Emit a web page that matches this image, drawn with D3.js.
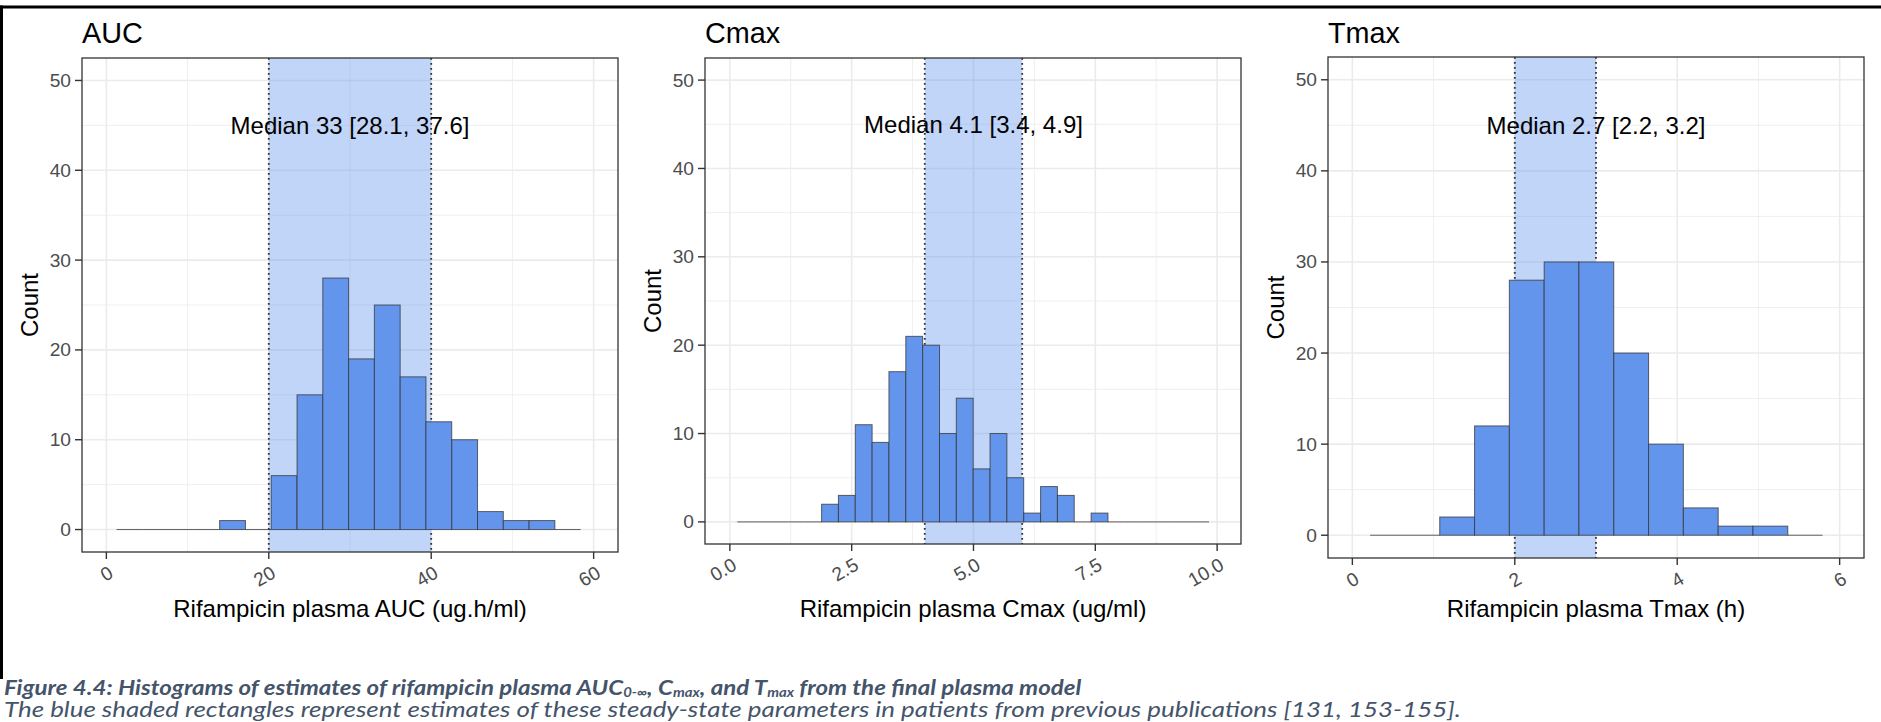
<!DOCTYPE html>
<html>
<head>
<meta charset="utf-8">
<script src="https://cdn.jsdelivr.net/npm/d3@7"></script>
<style>
  body { margin: 0; background: #fff; }
  svg { display: block; font-family: "Liberation Sans", Arial, sans-serif; }
</style>
</head>
<body>
<div id="chart"></div>
<script>
// Histograms of rifampicin plasma AUC, Cmax and Tmax
const WIDTH = 1881;
const HEIGHT = 722;

// ---- data ----
const aucBinStarts = [1.25, 4.43, 7.6, 10.78, 13.95, 17.13, 20.3, 23.48, 26.65, 29.83, 33.0, 36.18, 39.35, 42.53, 45.7, 48.88, 52.05, 55.23];
const aucBinWidth = 3.175;
const aucCounts = [0, 0, 0, 0, 1, 0, 6, 15, 28, 19, 25, 17, 12, 10, 2, 1, 1, 0];
const aucShade = [20, 40];
const aucLabel = "Median 33 [28.1, 37.6]";
const aucLabelX = 30;
const aucXTicks = [0, 20, 40, 60];
const aucXMinor = [10, 30, 50];

const cmaxBinStarts = [0.154, 0.5, 0.845, 1.191, 1.537, 1.883, 2.228, 2.574, 2.92, 3.265, 3.611, 3.957, 4.302, 4.648, 4.994, 5.34, 5.685, 6.031, 6.377, 6.722, 7.068, 7.414, 7.759, 8.105, 8.451, 8.797, 9.142, 9.488];
const cmaxBinWidth = 0.3457;
const cmaxCounts = [0, 0, 0, 0, 0, 2, 3, 11, 9, 17, 21, 20, 10, 14, 6, 10, 5, 1, 4, 3, 0, 1, 0, 0, 0, 0, 0, 0];
const cmaxShade = [4, 6];
const cmaxLabel = "Median 4.1 [3.4, 4.9]";
const cmaxLabelX = 5;
const cmaxXTicks = [0, 2.5, 5, 7.5, 10];
const cmaxXMinor = [1.25, 3.75, 6.25, 8.75];

const tmaxBinStarts = [0.219, 0.648, 1.076, 1.505, 1.933, 2.362, 2.79, 3.219, 3.647, 4.076, 4.504, 4.933, 5.361];
const tmaxBinWidth = 0.4285;
const tmaxCounts = [0, 0, 2, 12, 28, 30, 30, 20, 10, 3, 1, 1, 0];
const tmaxShade = [2, 3];
const tmaxLabel = "Median 2.7 [2.2, 3.2]";
const tmaxLabelX = 3;
const tmaxXTicks = [0, 2, 4, 6];
const tmaxXMinor = [1, 3, 5];

const yTicks = [0, 10, 20, 30, 40, 50];
const yMinor = [5, 15, 25, 35, 45];
const labelY = 45;

const caption1 = "Figure 4.4: Histograms of estimates of rifampicin plasma AUC";
const caption2 = "The blue shaded rectangles represent estimates of these steady-state parameters in patients from previous publications [131, 153-155].";

// ---- styling ----
const BAR_FILL = "#6495ED";
const SHADE_FILL = "#6495ED";
const GRID = "#ebebeb";
const TICK_TEXT = "#4d4d4d";
const CAPTION_COL = "#44546A";

const panels = [
  {title: "AUC", xLabel: "Rifampicin plasma AUC (ug.h/ml)", starts: aucBinStarts, width: aucBinWidth,
   counts: aucCounts, shade: aucShade, label: aucLabel, labelX: aucLabelX, ticks: aucXTicks, minor: aucXMinor,
   xDomain: [-3, 63], left: 82, right: 618, top: 58, bottom: 552},
  {title: "Cmax", xLabel: "Rifampicin plasma Cmax (ug/ml)", starts: cmaxBinStarts, width: cmaxBinWidth,
   counts: cmaxCounts, shade: cmaxShade, label: cmaxLabel, labelX: cmaxLabelX, ticks: cmaxXTicks, minor: cmaxXMinor,
   xDomain: [-0.51, 10.49], left: 705, right: 1241, top: 58, bottom: 544, fmt: d3.format(".1f")},
  {title: "Tmax", xLabel: "Rifampicin plasma Tmax (h)", starts: tmaxBinStarts, width: tmaxBinWidth,
   counts: tmaxCounts, shade: tmaxShade, label: tmaxLabel, labelX: tmaxLabelX, ticks: tmaxXTicks, minor: tmaxXMinor,
   xDomain: [-0.3, 6.3], left: 1328, right: 1864, top: 57, bottom: 558}
];

const svg = d3.select("#chart")
  .append("svg")
    .attr("width", WIDTH)
    .attr("height", HEIGHT);

svg.append("rect").attr("width", WIDTH).attr("height", HEIGHT).attr("fill", "#fff");

function drawPanel(p) {
  const x = d3.scaleLinear().domain(p.xDomain).range([p.left, p.right]);
  const y = d3.scaleLinear().domain([-2.5, 52.5]).range([p.bottom, p.top]);
  const g = svg.append("g");

  // grid, minor first
  g.selectAll(".ymin").data(yMinor).join("line")
    .attr("x1", p.left).attr("x2", p.right)
    .attr("y1", d => y(d)).attr("y2", d => y(d))
    .attr("stroke", GRID).attr("stroke-width", 0.8);
  g.selectAll(".xmin").data(p.minor).join("line")
    .attr("x1", d => x(d)).attr("x2", d => x(d))
    .attr("y1", p.top).attr("y2", p.bottom)
    .attr("stroke", GRID).attr("stroke-width", 0.8);
  g.selectAll(".ymaj").data(yTicks).join("line")
    .attr("x1", p.left).attr("x2", p.right)
    .attr("y1", d => y(d)).attr("y2", d => y(d))
    .attr("stroke", GRID).attr("stroke-width", 1.6);
  g.selectAll(".xmaj").data(p.ticks).join("line")
    .attr("x1", d => x(d)).attr("x2", d => x(d))
    .attr("y1", p.top).attr("y2", p.bottom)
    .attr("stroke", GRID).attr("stroke-width", 1.6);

  // shaded range from previous publications
  g.append("rect")
    .attr("x", x(p.shade[0])).attr("y", p.top)
    .attr("width", x(p.shade[1]) - x(p.shade[0]))
    .attr("height", p.bottom - p.top)
    .attr("fill", SHADE_FILL).attr("fill-opacity", 0.4);
  g.selectAll(".vline").data(p.shade).join("line")
    .attr("x1", d => x(d)).attr("x2", d => x(d))
    .attr("y1", p.top).attr("y2", p.bottom)
    .attr("stroke", "#333").attr("stroke-width", 1.8)
    .attr("stroke-dasharray", "1.8,3.2");

  // histogram bins
  const bins = p.starts.map((s, i) => ({x0: s, x1: s + p.width, n: p.counts[i]}));
  g.selectAll(".zero").data(bins.filter(d => d.n === 0)).join("line")
    .attr("x1", d => x(d.x0)).attr("x2", d => x(d.x1))
    .attr("y1", y(0)).attr("y2", y(0))
    .attr("stroke", "#333").attr("stroke-opacity", 0.75).attr("stroke-width", 1);
  g.selectAll(".bar").data(bins.filter(d => d.n > 0)).join("rect")
    .attr("x", d => x(d.x0))
    .attr("y", d => y(d.n))
    .attr("width", d => x(d.x1) - x(d.x0))
    .attr("height", d => y(0) - y(d.n))
    .attr("fill", BAR_FILL)
    .attr("stroke", "#333").attr("stroke-opacity", 0.75).attr("stroke-width", 1);

  // median label
  g.append("text")
    .attr("x", x(p.labelX)).attr("y", y(labelY))
    .attr("text-anchor", "middle").attr("dominant-baseline", "central")
    .attr("font-size", 24).attr("fill", "#000")
    .text(p.label);

  // panel border
  g.append("rect")
    .attr("x", p.left).attr("y", p.top)
    .attr("width", p.right - p.left).attr("height", p.bottom - p.top)
    .attr("fill", "none").attr("stroke", "#333").attr("stroke-width", 1.3);

  // y axis
  g.selectAll(".ytick").data(yTicks).join("line")
    .attr("x1", p.left - 7).attr("x2", p.left)
    .attr("y1", d => y(d)).attr("y2", d => y(d))
    .attr("stroke", "#333").attr("stroke-width", 1.4);
  g.selectAll(".ylab").data(yTicks).join("text")
    .attr("x", p.left - 11).attr("y", d => y(d))
    .attr("text-anchor", "end").attr("dominant-baseline", "central")
    .attr("font-size", 19.2).attr("fill", TICK_TEXT)
    .text(d => d);

  // x axis, rotated labels
  const fmt = p.fmt || (d => d);
  g.selectAll(".xtick").data(p.ticks).join("line")
    .attr("x1", d => x(d)).attr("x2", d => x(d))
    .attr("y1", p.bottom).attr("y2", p.bottom + 7)
    .attr("stroke", "#333").attr("stroke-width", 1.4);
  g.selectAll(".xlab").data(p.ticks).join("text")
    .attr("transform", d => "translate(" + (x(d) + 5) + "," + (p.bottom + 19) + ") rotate(-30)")
    .attr("text-anchor", "end").attr("dominant-baseline", "central")
    .attr("font-size", 19.2).attr("fill", TICK_TEXT)
    .text(fmt);

  // titles
  g.append("text")
    .attr("x", p.left).attr("y", 43)
    .attr("font-size", 28.8).attr("fill", "#000")
    .text(p.title);
  g.append("text")
    .attr("x", (p.left + p.right) / 2).attr("y", 617)
    .attr("text-anchor", "middle")
    .attr("font-size", 24).attr("fill", "#000")
    .text(p.xLabel);
  g.append("text")
    .attr("transform", "translate(" + (p.left - 53) + "," + ((p.top + p.bottom) / 2) + ") rotate(-90)")
    .attr("text-anchor", "middle").attr("dominant-baseline", "central")
    .attr("font-size", 24).attr("fill", "#000")
    .text("Count");
}

panels.forEach(drawPanel);

// outer frame (top and left edges)
svg.append("line").attr("x1", 0).attr("x2", WIDTH).attr("y1", 7).attr("y2", 7)
  .attr("stroke", "#000").attr("stroke-width", 3);
svg.append("line").attr("x1", 1.5).attr("x2", 1.5).attr("y1", 5.5).attr("y2", 679)
  .attr("stroke", "#000").attr("stroke-width", 3);

// caption below the figure
function fitWidth(sel, x0, target) {
  const w = sel.node().getBBox().width;
  const k = target / w;
  sel.attr("transform", "translate(" + x0 + ",0) scale(" + k + ",1) translate(" + (-x0) + ",0)");
}

const cap1 = svg.append("text")
  .attr("x", 4).attr("y", 695)
  .attr("font-family", "Lato, 'Open Sans', sans-serif")
  .attr("font-size", 21).attr("font-weight", "bold").attr("font-style", "italic")
  .attr("fill", CAPTION_COL);
cap1.append("tspan").text(caption1);
cap1.append("tspan").attr("font-size", 13).attr("dy", 2.5).text("0-\u221e");
cap1.append("tspan").attr("dy", -2.5).text(", C");
cap1.append("tspan").attr("font-size", 13).attr("dy", 2.5).text("max");
cap1.append("tspan").attr("dy", -2.5).text(", and T");
cap1.append("tspan").attr("font-size", 13).attr("dy", 2.5).text("max");
cap1.append("tspan").attr("dy", -2.5).text(" from the final plasma model");
fitWidth(cap1, 4, 1078);

const cap2 = svg.append("text")
  .attr("x", 4).attr("y", 717)
  .attr("font-family", "Lato, 'Open Sans', sans-serif")
  .attr("font-size", 21).attr("font-style", "italic")
  .attr("fill", CAPTION_COL)
  .text(caption2);
fitWidth(cap2, 4, 1458);
</script>
</body>
</html>
